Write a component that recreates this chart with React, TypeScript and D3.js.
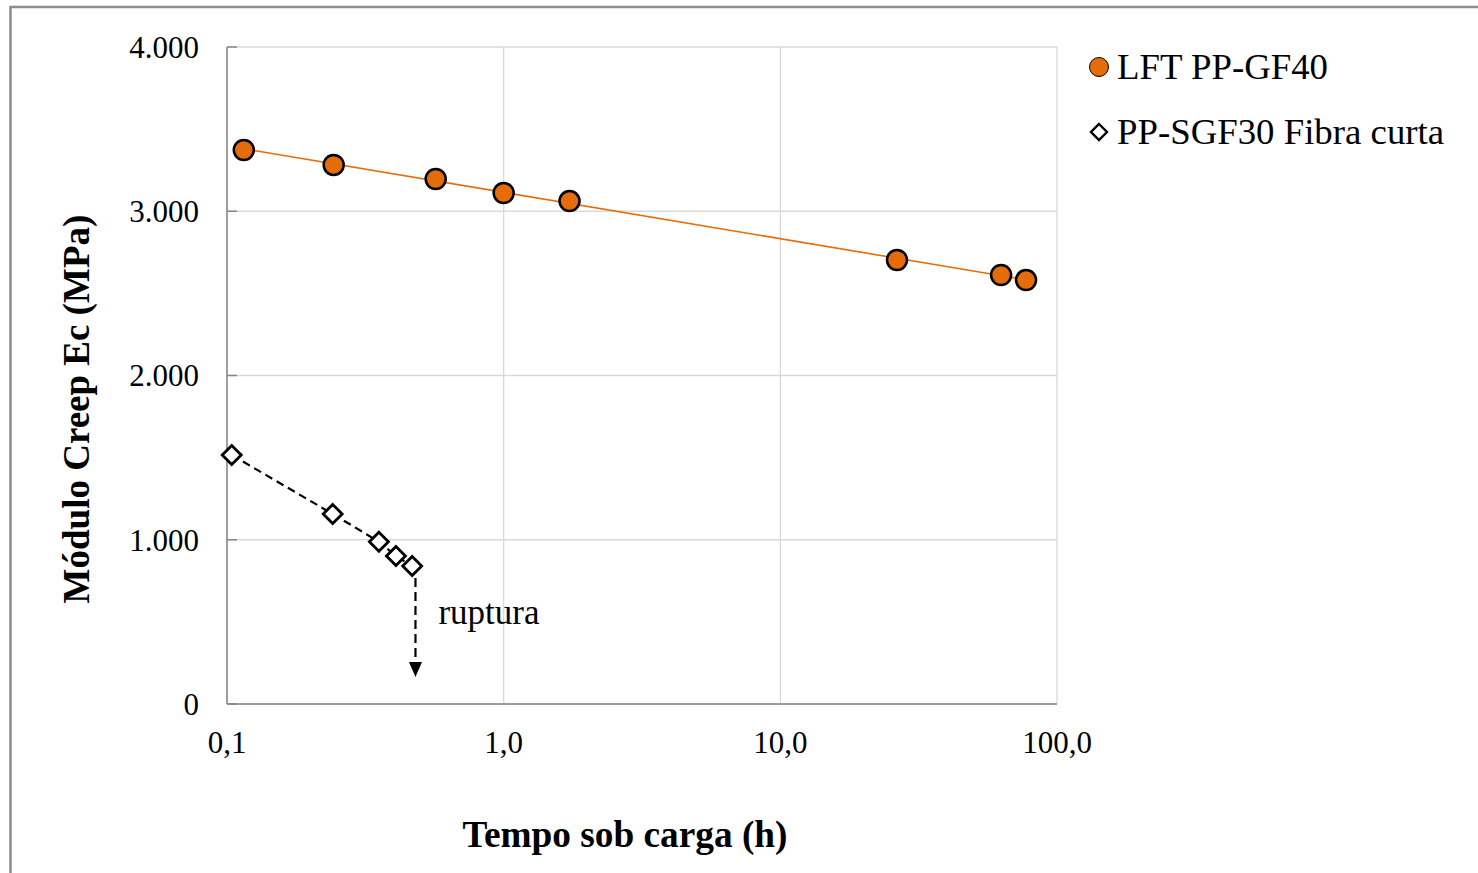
import React from "react";
import * as d3 from "d3";

// ---- Data ----
const lftTime = [0.115, 0.243, 0.568, 1.0, 1.73, 26.4, 62.8, 77.3];
const lftModulus = [3373, 3282, 3196, 3111, 3062, 2703, 2612, 2581];

const sgfTime = [0.104, 0.241, 0.354, 0.408, 0.467];
const sgfModulus = [1516, 1157, 988, 901, 840];

const ruptureTime = 0.48;
const ruptureArrowEnd = 165;
const ruptureLabel = "ruptura";

const xTicks = [0.1, 1, 10, 100];
const yTicks = [0, 1000, 2000, 3000, 4000];

const seriesNames = ["LFT PP-GF40", "PP-SGF30 Fibra curta"];
const xTitle = "Tempo sob carga (h)";
const yTitle = "Módulo Creep Ec (MPa)";

// ---- Layout ----
const W = 1478;
const H = 873;
const left = 227;
const right = 1057;
const top = 47;
const bottom = 704;

const FONT = "'Liberation Serif', 'Times New Roman', serif";
const ORANGE = "#E46C0A";

const locale = d3.formatLocale({ decimal: ",", thousands: ".", grouping: [3], currency: ["", ""] });
const fmtY = locale.format(",.0f");
const fmtX = locale.format(".1f");

export default function App() {
  const x = d3.scaleLog().domain([0.1, 100]).range([left, right]);
  const y = d3.scaleLinear().domain([0, 4000]).range([bottom, top]);

  // least squares fit on log10(t) for trend line
  const lx = lftTime.map((t) => Math.log10(t));
  const mx = d3.mean(lx) as number;
  const my = d3.mean(lftModulus) as number;
  let num = 0;
  let den = 0;
  lx.forEach((v, i) => {
    num += (v - mx) * (lftModulus[i] - my);
    den += (v - mx) * (v - mx);
  });
  const b = num / den;
  const a = my - b * mx;
  const tMin = d3.min(lftTime) as number;
  const tMax = d3.max(lftTime) as number;
  const trend: [number, number][] = [
    [tMin, a + b * Math.log10(tMin)],
    [tMax, a + b * Math.log10(tMax)],
  ];
  const line = d3
    .line<[number, number]>()
    .x((d) => x(d[0]))
    .y((d) => y(d[1]));

  const sgfPts: [number, number][] = sgfTime.map((t, i) => [t, sgfModulus[i]]);
  const diamond = (cx: number, cy: number, r: number) =>
    `M${cx},${cy - r}L${cx + r},${cy}L${cx},${cy + r}L${cx - r},${cy}Z`;

  const lastSgfY = y(sgfModulus[sgfModulus.length - 1]);
  const arrowX = x(ruptureTime);
  const arrowTipY = y(ruptureArrowEnd);

  return (
    <svg
      width={W}
      height={H}
      style={{ position: "absolute", left: 0, top: 0, background: "#fff" }}
      fontFamily={FONT}
    >
      {/* outer frame */}
      <rect x={10.5} y={7} width={W + 20} height={H + 20} fill="#fff" stroke="#8c8c8c" strokeWidth={2.5} />

      {/* grid */}
      {yTicks.map((v) => (
        <line key={"gy" + v} x1={left} x2={right} y1={y(v)} y2={y(v)} stroke="#d9d9d9" strokeWidth={1.3} />
      ))}
      {xTicks.map((v) => (
        <line key={"gx" + v} x1={x(v)} x2={x(v)} y1={top} y2={bottom} stroke="#d9d9d9" strokeWidth={1.3} />
      ))}

      {/* axes */}
      <line x1={left} x2={left} y1={top} y2={bottom} stroke="#868686" strokeWidth={1.5} />
      <line x1={left} x2={right} y1={bottom} y2={bottom} stroke="#868686" strokeWidth={1.5} />
      {yTicks.map((v) => (
        <line key={"ty" + v} x1={left} x2={left + 10} y1={y(v)} y2={y(v)} stroke="#868686" strokeWidth={1.5} />
      ))}

      {/* tick labels */}
      {yTicks.map((v) => (
        <text key={"ly" + v} x={199} y={y(v)} dy="0.35em" textAnchor="end" fontSize={31} fill="#000">
          {fmtY(v)}
        </text>
      ))}
      {xTicks.map((v) => (
        <text key={"lx" + v} x={x(v)} y={753} textAnchor="middle" fontSize={31} fill="#000">
          {fmtX(v)}
        </text>
      ))}

      {/* LFT trend */}
      <path d={line(trend) as string} fill="none" stroke={ORANGE} strokeWidth={1.6} />
      {lftTime.map((t, i) => (
        <circle key={"c" + i} cx={x(t)} cy={y(lftModulus[i])} r={10} fill={ORANGE} stroke="#000" strokeWidth={2.5} />
      ))}

      {/* SGF dashed */}
      <path d={line(sgfPts) as string} fill="none" stroke="#000" strokeWidth={2.2} strokeDasharray="8 5" />
      {sgfPts.map((p, i) => (
        <path key={"d" + i} d={diamond(x(p[0]), y(p[1]), 9.5)} fill="#fff" stroke="#000" strokeWidth={2.8} />
      ))}

      {/* rupture arrow */}
      <line
        x1={arrowX}
        x2={arrowX}
        y1={lastSgfY + 12}
        y2={arrowTipY - 14}
        stroke="#000"
        strokeWidth={2.2}
        strokeDasharray="9 5"
      />
      <path
        d={`M${arrowX - 6.5},${arrowTipY - 15}L${arrowX + 6.5},${arrowTipY - 15}L${arrowX},${arrowTipY}Z`}
        fill="#000"
      />
      <text x={arrowX + 23} y={624} fontSize={35} fill="#000">
        {ruptureLabel}
      </text>

      {/* axis titles */}
      <text x={625} y={847} textAnchor="middle" fontSize={37.3} fontWeight="bold" fill="#000">
        {xTitle}
      </text>
      <text
        transform={`translate(89,409) rotate(-90)`}
        textAnchor="middle"
        fontSize={37}
        fontWeight="bold"
        fill="#000"
      >
        {yTitle}
      </text>

      {/* legend */}
      <circle cx={1099} cy={67} r={9.5} fill={ORANGE} stroke="#000" strokeWidth={1} />
      <text x={1117} y={79} fontSize={36.8} fill="#000">
        {seriesNames[0]}
      </text>
      <path d={diamond(1099, 132, 8)} fill="#fff" stroke="#000" strokeWidth={2.4} />
      <text x={1117} y={144} fontSize={36.8} fill="#000">
        {seriesNames[1]}
      </text>
    </svg>
  );
}
